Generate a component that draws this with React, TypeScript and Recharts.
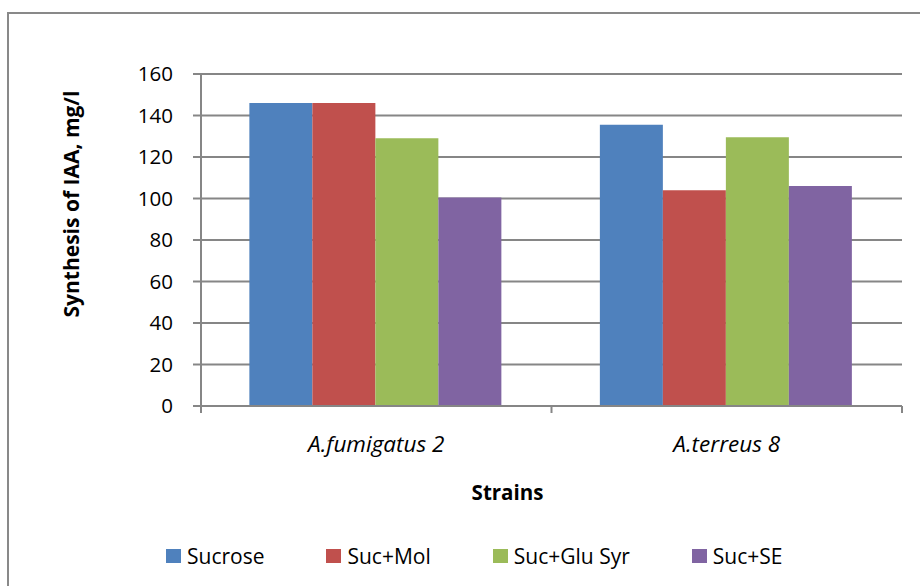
import React from 'react';
import { BarChart, Bar, XAxis, YAxis, CartesianGrid, Label } from 'recharts';

// Strains on the category axis
const categories = ['A.fumigatus 2', 'A.terreus 8'];

// IAA synthesis (mg/l) per carbon source
const sucrose = [146, 135.5];
const sucMol = [146, 104];
const sucGluSyr = [129, 129.5];
const sucSE = [100.5, 106];

const seriesKeys = ['sucrose', 'sucMol', 'sucGluSyr', 'sucSE'];
const seriesNames = ['Sucrose', 'Suc+Mol', 'Suc+Glu Syr', 'Suc+SE'];
const seriesColors = ['#4F81BD', '#C0504D', '#9BBB59', '#8064A2'];

const yTicks = [0, 20, 40, 60, 80, 100, 120, 140, 160];

const data = categories.map((strain, i) => ({
  strain,
  sucrose: sucrose[i],
  sucMol: sucMol[i],
  sucGluSyr: sucGluSyr[i],
  sucSE: sucSE[i],
}));

const FONT = '"Open Sans", "Liberation Sans", sans-serif';
const AXIS_GRAY = '#868686';

// Category labels, with tick marks drawn on the band boundaries
const CategoryTick = (props: any) => {
  const { x, y, payload, index } = props;
  const half = payload?.offset ?? 0;
  return (
    <g>
      <line x1={x - half} x2={x - half} y1={y} y2={y + 7} stroke={AXIS_GRAY} strokeWidth={2} />
      {index === categories.length - 1 && (
        <line x1={x + half} x2={x + half} y1={y} y2={y + 7} stroke={AXIS_GRAY} strokeWidth={2} />
      )}
      <text
        x={x}
        y={y + 46}
        textAnchor="middle"
        fontFamily={FONT}
        fontStyle="italic"
        fontSize={22.5}
        fill="#000"
      >
        {payload.value}
      </text>
    </g>
  );
};

export default function App() {
  return (
    <div
      style={{
        position: 'absolute',
        left: 0,
        top: 0,
        width: 920,
        height: 586,
        background: '#fff',
        overflow: 'hidden',
      }}
    >
      {/* chart frame */}
      <div
        style={{
          position: 'absolute',
          left: 7,
          top: 12,
          width: 940,
          height: 600,
          border: '2px solid #898989',
          boxSizing: 'border-box',
        }}
      />
      <BarChart
        width={920}
        height={586}
        data={data}
        margin={{ top: 74, right: 18, bottom: 100, left: 0 }}
        barCategoryGap="13.8%"
        barGap={0}
        style={{ position: 'absolute', left: 0, top: 0 }}
      >
        <CartesianGrid vertical={false} stroke={AXIS_GRAY} strokeWidth={2} />
        <XAxis
          dataKey="strain"
          height={80}
          interval={0}
          tickSize={0}
          tickMargin={0}
          tickLine={false}
          axisLine={{ stroke: AXIS_GRAY, strokeWidth: 2 }}
          tick={<CategoryTick />}
        >
          <Label
            content={() => (
              <text
                x={507.5}
                y={500}
                textAnchor="middle"
                fontFamily={FONT}
                fontWeight="bold"
                fontSize={20.5}
                fill="#000"
              >
                Strains
              </text>
            )}
          />
        </XAxis>
        <YAxis
          width={201}
          domain={[0, 160]}
          ticks={yTicks}
          interval={0}
          tickSize={8}
          tickMargin={20}
          tickLine={{ stroke: AXIS_GRAY, strokeWidth: 2 }}
          axisLine={{ stroke: AXIS_GRAY, strokeWidth: 2 }}
          tick={{ fill: '#000', fontSize: 20.5, fontFamily: FONT }}
        >
          <Label
            content={() => (
              <text
                x={79}
                y={204}
                transform="rotate(-90, 79, 204)"
                textAnchor="middle"
                fontFamily={FONT}
                fontWeight="bold"
                fontSize={21}
                fill="#000"
              >
                Synthesis of IAA, mg/l
              </text>
            )}
          />
        </YAxis>
        {seriesKeys.map((key, i) => (
          <Bar
            key={key}
            dataKey={key}
            name={seriesNames[i]}
            fill={seriesColors[i]}
            isAnimationActive={false}
          />
        ))}
      </BarChart>
      {/* legend */}
      <div
        style={{
          position: 'absolute',
          left: 166,
          top: 542,
          display: 'flex',
          alignItems: 'center',
          fontFamily: FONT,
          fontSize: 21,
          lineHeight: '28px',
          color: '#000',
        }}
      >
        {seriesNames.map((name, i) => (
          <div
            key={name}
            style={{
              display: 'flex',
              alignItems: 'center',
              marginRight: i < seriesNames.length - 1 ? 62 : 0,
            }}
          >
            <span
              style={{
                display: 'inline-block',
                width: 15,
                height: 14,
                background: seriesColors[i],
                marginRight: 6,
              }}
            />
            <span>{name}</span>
          </div>
        ))}
      </div>
    </div>
  );
}
